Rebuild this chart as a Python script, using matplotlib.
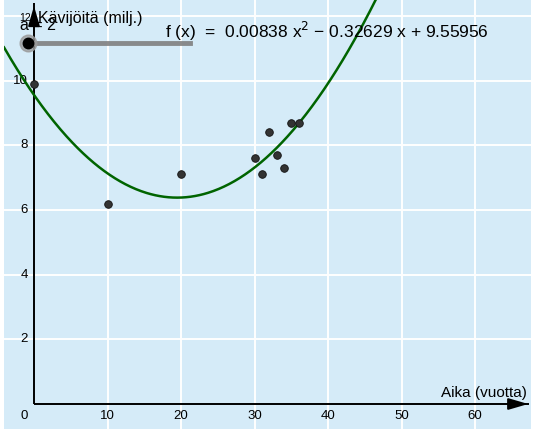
import numpy as np
import matplotlib
matplotlib.use('Agg')
import matplotlib.pyplot as plt

# Visitors per year and the fitted quadratic
years = [0, 10, 20, 30, 31, 32, 33, 34, 35, 36]
visitors = [9.9, 6.2, 7.1, 7.6, 7.1, 8.4, 7.7, 7.3, 8.7, 8.7]
coeffs = [0.00838, -0.32629, 9.55956]

x_ticks = [0, 10, 20, 30, 40, 50, 60]
y_ticks = [2, 4, 6, 8, 10, 12]
x_label = 'Aika (vuotta)'
y_label = 'Kävijöitä (milj.)'
slider_label = 'a = 2'

plt.rcParams['font.family'] = ['Liberation Sans', 'DejaVu Sans']

W, H = 533, 429
fig = plt.figure(figsize=(W / 100, H / 100), dpi=100)
fig.patch.set_facecolor('white')

# pixel geometry of the view
x0_px, y0_px = 34, 404
sx, sy = 7.35, 32.33
left_px, right_px = 4, 531
ax = fig.add_axes([left_px / W, 0, (right_px - left_px) / W, 1])
ax.set_xlim((left_px - x0_px) / sx, (right_px - x0_px) / sx)
ax.set_ylim(-(H - y0_px) / sy, y0_px / sy)
ax.set_facecolor('#d5ebf8')
for s in ax.spines.values():
    s.set_visible(False)
ax.set_xticks([])
ax.set_yticks([])

xmin, xmax = ax.get_xlim()
ymin, ymax = ax.get_ylim()

# grid
for gx in x_ticks[1:]:
    ax.axvline(gx, color='white', lw=1.4, zorder=1)
for gy in y_ticks:
    ax.axhline(gy, color='white', lw=1.4, zorder=1)

# axes with arrows (positive directions only)
ax.plot([0, xmax - 0.3], [0, 0], color='black', lw=1.4, zorder=3, solid_capstyle='butt')
ax.plot([0, 0], [0, ymax - 0.1], color='black', lw=1.4, zorder=3, solid_capstyle='butt')
ax.annotate('', xy=(xmax, 0), xytext=(xmax - 2.6, 0),
            arrowprops=dict(arrowstyle='-|>,head_length=1.2,head_width=0.35',
                            color='black', lw=1.4), zorder=4)
ax.annotate('', xy=(0, ymax - 0.1), xytext=(0, ymax - 0.7),
            arrowprops=dict(arrowstyle='-|>,head_length=1.2,head_width=0.35',
                            color='black', lw=1.4), zorder=4)

# tick labels
for t in x_ticks:
    tx = t - 1.3 if t == 0 else t
    ax.text(tx, -0.36, str(t), ha='center', va='center', fontsize=9.5, zorder=5)
for t in y_ticks[:-1]:
    ax.text(-0.8, t, str(t), ha='right', va='center', fontsize=9.5, zorder=5)
ax.text(-0.45, y_ticks[-1] - 0.05, str(y_ticks[-1]), ha='right', va='center',
        fontsize=7.5, zorder=5)

ax.text(xmax - 0.6, 0.12, x_label, ha='right', va='bottom', fontsize=11, zorder=5)
ax.text(0.6, 11.78, y_label, ha='left', va='baseline', fontsize=11.5, zorder=5)

# fitted curve
xs = np.linspace(xmin, xmax, 600)
ys = np.polyval(coeffs, xs)
ax.plot(xs, ys, color='#006400', lw=1.8, zorder=6)

# data points
ax.scatter(years, visitors, s=30, color='#333333', edgecolors='#111111',
           linewidths=0.6, zorder=7)

# slider a
fig.lines.append(plt.Line2D([28 / W, 190 / W], [1 - 43 / H, 1 - 43 / H],
                            transform=fig.transFigure, color='#808080',
                            lw=3.5, alpha=0.9, zorder=8))
fig.lines.append(plt.Line2D([28 / W], [1 - 43 / H], transform=fig.transFigure,
                            marker='o', ms=12, color='#9a9a9a', alpha=0.8,
                            zorder=9))
fig.lines.append(plt.Line2D([28 / W], [1 - 43 / H], transform=fig.transFigure,
                            marker='o', ms=7.5, color='black', zorder=10))
fig.text(20 / W, 1 - 30 / H, slider_label, ha='left', va='baseline',
         fontsize=11.5, zorder=11)

# formula
a2, a1, a0 = coeffs
formula = f'f (x)  =  {a2:.5f} x$^2$ \u2212 {abs(a1):.5f} x + {a0:.5f}'
fig.text(165 / W, 1 - 38 / H, formula, ha='left', va='baseline',
         fontsize=12.5, zorder=11)

fig.savefig('out.png', dpi=100)
